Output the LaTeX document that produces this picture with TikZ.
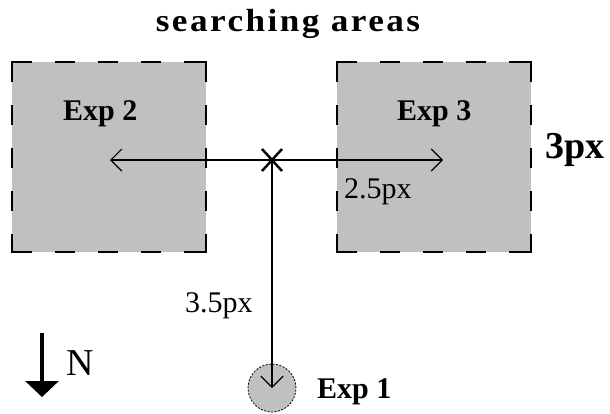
\documentclass[tikz,border=0pt]{standalone}
\usepackage{fontspec}
\setmainfont{Liberation Serif}
\usetikzlibrary{arrows.meta,calc}
\definecolor{boxgray}{HTML}{C0C0C0}
\tikzset{
  areabox/.style={fill=boxgray, draw=none},
  edgedash/.style={draw=black, line width=2.6pt, line cap=rect,
    dash pattern=on 19pt off 25pt on 18pt off 25pt on 18pt off 25pt on 18pt off 25pt on 30pt off 60pt},
  meas/.style={line width=1.3pt, -{Straight Barb[length=11pt,width=22pt,line width=1.2pt]}},
  explabel/.style={font=\fontsize{30}{32}\selectfont\bfseries, inner sep=0pt, anchor=base west},
  dimlabel/.style={font=\fontsize{30}{32}\selectfont, inner sep=0pt, anchor=base west},
}
\begin{document}
\begin{tikzpicture}[x=1pt,y=-1pt]
\useasboundingbox (0,0) rectangle (610,413);
% boxes
\foreach \nm/\xa in {L/12, R/337}{
  \pgfmathsetmacro{\xb}{\xa+194}
  \fill[boxgray] (\xa,62) rectangle (\xb,252);
  \draw[edgedash] (\xa,62) -- (\xb,62);
  \draw[edgedash] (\xa,252) -- (\xb,252);
  \draw[edgedash] (\xa,62) -- (\xa,252);
  \draw[edgedash] (\xb,62) -- (\xb,252);
}
\node[font=\fontsize{32}{34}\selectfont\bfseries, inner sep=0pt, anchor=base] (title) at (288,31) {\scalebox{1.1}[1]{\addfontfeature{LetterSpace=7}searching areas}};
\node[explabel] (e2) at (63,120) {Exp 2};
\node[explabel] (e3) at (397,120) {Exp 3};
\node[font=\fontsize{38}{40}\selectfont\bfseries, inner sep=0pt, anchor=base west] (h3) at (545,158) {3px};
% centre
\coordinate (c) at (272,160);
\coordinate (lt) at (110,160);
\coordinate (rt) at (443,160);
\node[circle, minimum size=48pt, inner sep=0pt, fill=boxgray, draw=black, line width=0.8pt, dash pattern=on 2pt off 1.5pt] (e1c) at (272,388) {};
\draw[meas] (c) -- (lt);
\draw[meas] (c) -- (rt);
\draw[meas] (c) -- (e1c.center);
\draw[line width=2.5pt] ($(c)+(-10,-11)$) -- ($(c)+(10,11)$);
\draw[line width=2.5pt] ($(c)+(-10,11)$) -- ($(c)+(10,-11)$);
\node[dimlabel] (d25) at (344,198) {2.5px};
\node[dimlabel] (d35) at (185,312) {3.5px};
\node[explabel] (e1) at (317,398) {Exp 1};
% north arrow
\coordinate (ns) at (42,333);
\coordinate (nt) at (42,397);
\draw[line width=3.5pt, -{Triangle[length=16pt,width=33pt]}] (ns) -- (nt);
\node[font=\fontsize{38}{40}\selectfont, inner sep=0pt, anchor=base west] (n) at (66,375) {N};
\end{tikzpicture}
\end{document}
